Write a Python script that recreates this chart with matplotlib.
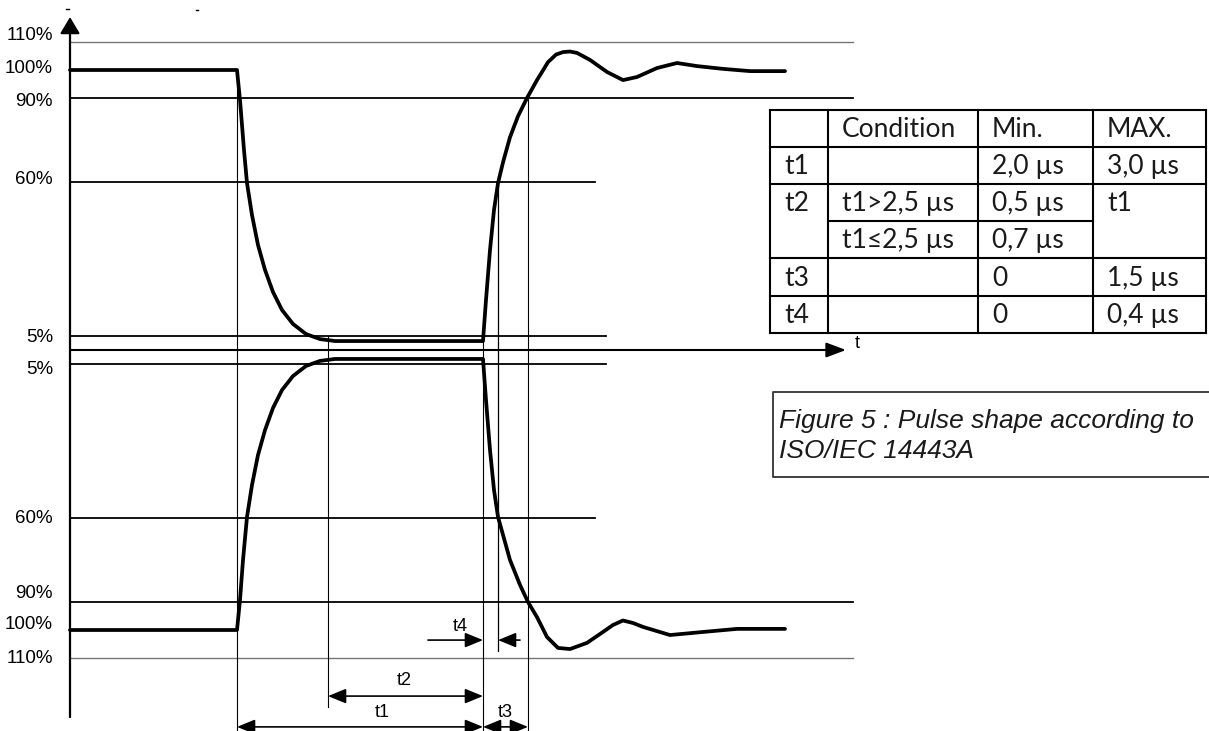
import matplotlib.pyplot as plt

# guide levels, percent of carrier amplitude
levels = [110, 100, 90, 60, 5]
level_text = ["110%", "100%", "90%", "60%", "5%"]

# upper envelope: time (diagram units) / amplitude (%)
up_t = [70, 237, 240, 244, 247, 252, 258, 265, 273, 282, 293, 306, 320, 335, 483,
        486, 490, 494, 498, 503, 510, 518, 527, 537, 548, 556, 563, 570, 577, 590, 607, 623, 637,
        657, 677, 697, 723, 750, 785]
up_a = [100, 100, 89.3, 71.4, 59.6, 48.2, 37.5, 28.6, 20.7, 14.3, 9.3, 5.7, 3.9, 3.2, 3.2,
        17.9, 35.7, 50, 59.6, 67, 76, 83.5, 90, 96.4, 102.8, 105.5, 106.4, 106.6, 106.1, 103.6,
        99.3, 96.4, 97.5, 100.7, 102.5, 101.4, 100.4, 99.6, 99.6]

# lower envelope (mirrored)
lo_t = [70, 237, 240, 243, 247, 252, 258, 265, 273, 282, 293, 306, 320, 335, 483,
        486, 490, 494, 498, 510, 520, 528, 537, 547, 558, 570, 587, 603, 613, 623, 633, 643,
        670, 703, 737, 785]
lo_a = [100, 100, 89.3, 75, 59.6, 48.2, 37.5, 28.6, 20.7, 14.3, 9.3, 5.7, 3.9, 3.2, 3.2,
        17.9, 35.7, 50, 59.6, 75, 83.9, 90, 95.4, 102.5, 106.4, 106.8, 104.6, 100.7, 98.2,
        96.6, 97.5, 98.9, 101.8, 100.7, 99.6, 99.6]

# timing marks
t_fall, t_low, t_rise, t_60, t_90 = 237, 328, 483, 498, 528

# table
tbl_header = ["", "Condition", "Min.", "MAX."]
tbl_rows = [["t1", "", "2,0 µs", "3,0 µs"],
            ["t2", "t1>2,5 µs", "0,5 µs", "t1"],
            ["", "t1≤2,5 µs", "0,7 µs", ""],
            ["t3", "", "0", "1,5 µs"],
            ["t4", "", "0", "0,4 µs"]]
caption = "Figure 5 : Pulse shape according to\nISO/IEC 14443A"

fig = plt.figure(figsize=(12.09, 7.31), dpi=100)
ax = fig.add_axes([0, 0, 1, 1])
ax.set_xlim(0, 1209)
ax.set_ylim(-136.07, 125)
ax.axis("off")

pax = fig.add_axes([0, 0, 1, 1])
pax.set_xlim(0, 1209)
pax.set_ylim(731, 0)
pax.axis("off")

AF = "Liberation Sans"
bottom = -136.07

# horizontal guides
reach = {110: 853, 100: None, 90: 853, 60: 595, 5: 606}
for lv in levels:
    if reach[lv] is None:
        continue
    col = "#777777" if lv == 110 else "black"
    w = 1.0 if lv == 110 else 1.3
    ax.plot([70, reach[lv]], [lv, lv], color=col, lw=w)
    ax.plot([70, reach[lv]], [-lv, -lv], color=col, lw=w)

# level labels
up_nudge = [2.5, 0.6, -1.4, 0.8, -0.4]
lo_nudge = [0, 1.8, 3.2, 0, -1.8]
for lv, txt, a, b in zip(levels, level_text, up_nudge, lo_nudge):
    ax.text(53, lv + a, txt, ha="right", va="center", fontsize=13.5, family=AF, color="black")
    ax.text(53, -lv + b, txt, ha="right", va="center", fontsize=13.5, family=AF, color="black")

# axes
ax.annotate("", xy=(70, 118.9), xytext=(70, -131.1),
            arrowprops=dict(arrowstyle="-|>,head_length=10,head_width=6", mutation_scale=1,
                            color="black", lw=1.6, shrinkA=0, shrinkB=0))
ax.annotate("", xy=(846, 0), xytext=(70, 0),
            arrowprops=dict(arrowstyle="-|>,head_length=12,head_width=4.5", mutation_scale=1,
                            color="black", lw=1.5, shrinkA=0, shrinkB=0))
ax.text(857, 2.2, "t", ha="center", va="center", fontsize=13, family=AF)

# vertical timing lines
ax.plot([t_fall, t_fall], [100, bottom], color="black", lw=0.8)
ax.plot([t_low, t_low], [5, -127.5], color="black", lw=0.8)
ax.plot([t_rise, t_rise], [5, bottom], color="black", lw=0.8)
ax.plot([t_60, t_60], [60, -107.5], color="black", lw=0.9)
ax.plot([t_90, t_90], [90, bottom], color="black", lw=0.8)

# envelopes
ax.plot(up_t, up_a, color="black", lw=2.7, solid_joinstyle="round", solid_capstyle="round")
ax.plot(lo_t, [-a for a in lo_a], color="black", lw=2.7, solid_joinstyle="round",
        solid_capstyle="round")


def dim(x0, x1, y, style):
    ax.annotate("", xy=(x1, y), xytext=(x0, y),
                arrowprops=dict(arrowstyle=style + ",head_length=11,head_width=4.5",
                                mutation_scale=1, color="black", lw=1.2,
                                shrinkA=0, shrinkB=0))


dim(t_fall, t_rise, -134.6, "<|-|>")
dim(t_low, t_rise, -123.6, "<|-|>")
dim(t_rise, t_90, -134.6, "<|-|>")
dim(428, t_rise, -103.6, "-|>")
dim(520, t_60, -103.6, "-|>")
ax.text(382, -129.6, "t1", ha="center", va="center", fontsize=13, family=AF)
ax.text(404, -118.2, "t2", ha="center", va="center", fontsize=13, family=AF)
ax.text(505, -129.6, "t3", ha="center", va="center", fontsize=13, family=AF)
ax.text(460, -98.6, "t4", ha="center", va="center", fontsize=13, family=AF)

# table
cx = [770, 828, 978, 1093, 1206]
ry = [110, 147, 184, 221, 258, 296, 333]
lw_t = 1.5
for y in ry:
    if y == 221:
        pax.plot([cx[1], cx[3]], [y, y], color="black", lw=lw_t)
    else:
        pax.plot([cx[0], cx[-1]], [y, y], color="black", lw=lw_t)
for x in cx:
    pax.plot([x, x], [ry[0], ry[-1]], color="black", lw=lw_t)
for r, row in enumerate([tbl_header] + tbl_rows):
    for c, txt in enumerate(row):
        if txt:
            pax.text(cx[c] + 14, ry[r + 1] - 10, txt, ha="left", va="baseline",
                     fontsize=19, family=["Lato", "DejaVu Sans"], color="#1a1a1a")

# caption box (open on the right)
pax.plot([1209, 773, 773, 1209], [392, 392, 477, 477], color="#333333", lw=1.3)
pax.text(779, 428, caption.split("\n")[0], ha="left", va="baseline", fontsize=19,
         family=AF, style="italic", color="#1a1a1a")
pax.text(779, 458, caption.split("\n")[1], ha="left", va="baseline", fontsize=19,
         family=AF, style="italic", color="#1a1a1a")

# stray marks at the top
pax.plot([66, 69], [9, 9], color="black", lw=1)
pax.plot([196, 198], [10, 10], color="black", lw=1)

fig.savefig("out.png", dpi=100)
